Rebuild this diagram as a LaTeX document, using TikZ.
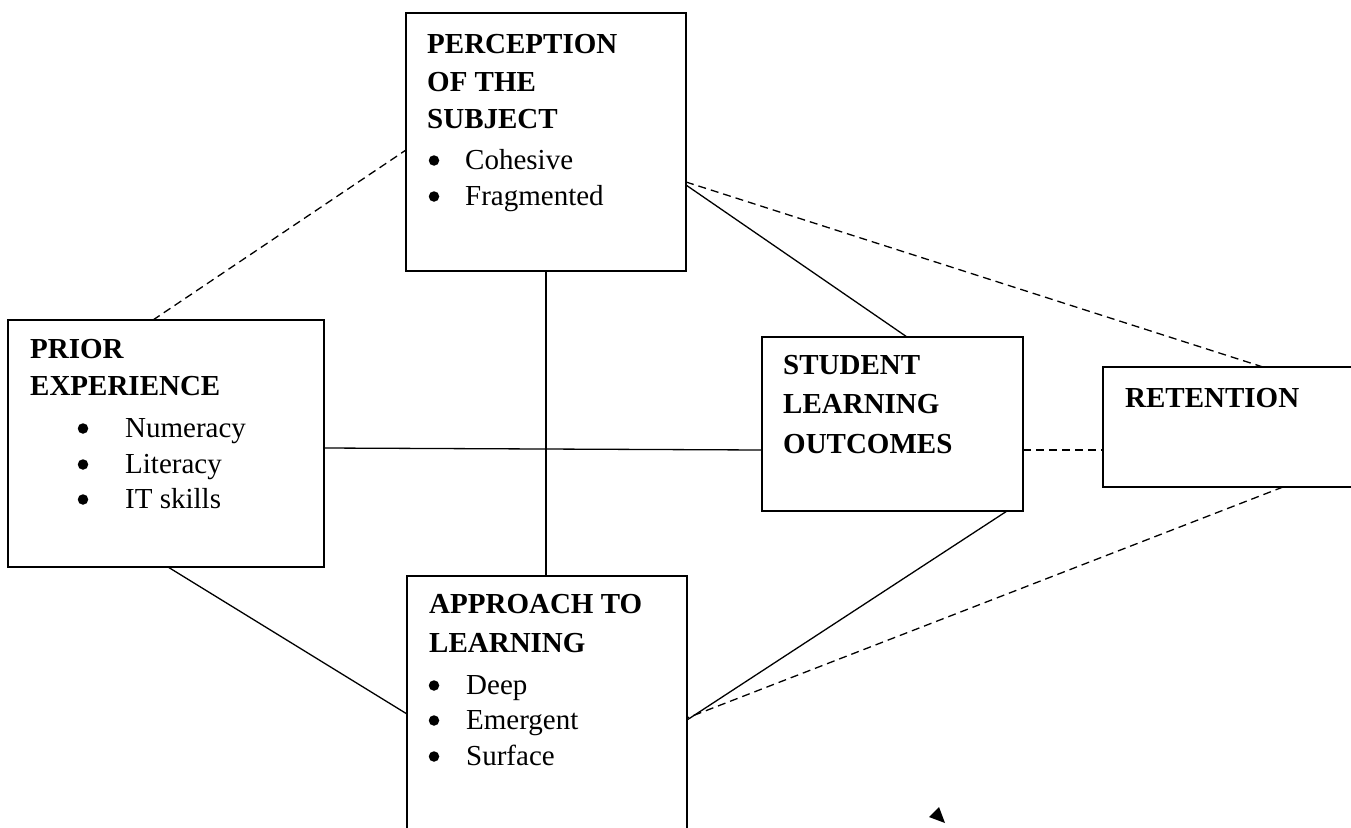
\documentclass[tikz,border=0pt]{standalone}
\usepackage{fontspec}
\setmainfont{Liberation Serif}
\usetikzlibrary{calc}
\begin{document}
\begin{tikzpicture}[x=1pt,y=-1pt,
  box/.style={draw,line width=1.6pt,inner sep=0pt,outer sep=0pt,anchor=north west},
  conn/.style={line width=1.3pt},
  dconn/.style={line width=1.3pt,dash pattern=on 8pt off 5pt},
  hd/.style={anchor=base west,inner sep=0pt,font=\fontsize{29}{36}\selectfont\bfseries},
  it/.style={anchor=base west,inner sep=0pt,font=\fontsize{29}{36}\selectfont},
  bul/.style={circle,fill,inner sep=0pt,minimum size=10.5pt,yshift=8.5pt}]
\useasboundingbox (0,0) rectangle (1351,827);
\fill[white] (0,0) rectangle (1351,827);
% boxes
\node[box,minimum width=280pt,minimum height=258pt] (perc) at (406,13) {};
\node[box,minimum width=316pt,minimum height=247pt] (prior) at (8,320) {};
\node[box,minimum width=261pt,minimum height=174pt] (slo) at (762,337) {};
\node[box,minimum width=260pt,minimum height=120pt] (ret) at (1103,367) {};
\node[box,minimum width=280pt,minimum height=270pt] (app) at (407,576) {};
% perception text
\node[hd] (p1) at (427,53) {PERCEPTION};
\node[hd] (p2) at (427,91) {OF THE};
\node[hd] (p3) at (427,128) {SUBJECT};
\node[bul] (pb1) at (434,169) {};
\node[it] (p4) at (465,169) {Cohesive};
\node[bul] (pb2) at (434,205) {};
\node[it] (p5) at (465,205) {Fragmented};
% prior text
\node[hd] (r1) at (30,358) {PRIOR};
\node[hd] (r2) at (30,395) {EXPERIENCE};
\node[bul] (rb1) at (83,437) {};
\node[it] (r3) at (125,437) {Numeracy};
\node[bul] (rb2) at (83,473) {};
\node[it] (r4) at (125,473) {Literacy};
\node[bul] (rb3) at (83,508) {};
\node[it] (r5) at (125,508) {IT skills};
% student text
\node[hd] (s1) at (783,374) {STUDENT};
\node[hd] (s2) at (783,413) {LEARNING};
\node[hd] (s3) at (783,453) {OUTCOMES};
% retention text
\node[hd] (t1) at (1125,407) {RETENTION};
% approach text
\node[hd] (a1) at (429,613) {APPROACH TO};
\node[hd] (a2) at (429,652) {LEARNING};
\node[bul] (ab1) at (434,694) {};
\node[it] (a3) at (466,694) {Deep};
\node[bul] (ab2) at (434,729) {};
\node[it] (a4) at (466,729) {Emergent};
\node[bul] (ab3) at (434,765) {};
\node[it] (a5) at (466,765) {Surface};
% connectors
\draw[dconn] ($(prior.north west)+(145,0)$) -- ($(perc.north west)+(0,137)$);
\draw[dconn] ($(perc.north east)+(0,169)$) -- ($(ret.north west)+(160,0)$);
\draw[conn] ($(perc.north east)+(0,172)$) -- ($(slo.north west)+(145,0)$);
\draw[conn] ($(perc.south west)+(140,0)$) -- ($(app.north west)+(139,0)$);
\draw[conn] ($(prior.north east)+(0,128)$) -- ($(slo.north west)+(0,113)$);
\draw[dconn] ($(slo.north east)+(0,113)$) -- ($(ret.north west)+(0,83)$);
\draw[conn] ($(prior.south west)+(160,0)$) -- ($(app.north west)+(0,138)$);
\draw[conn] ($(slo.south west)+(245,0)$) -- ($(app.north east)+(0,144)$);
\draw[dconn] ($(ret.south west)+(180,0)$) -- ($(app.north east)+(0,142)$);
% stray arrowhead
\coordinate (tA) at (939,807);
\coordinate (tB) at (929,817);
\coordinate (tC) at (945,823);
\fill (tA) -- (tB) -- (tC) -- cycle;
\end{tikzpicture}
\end{document}
